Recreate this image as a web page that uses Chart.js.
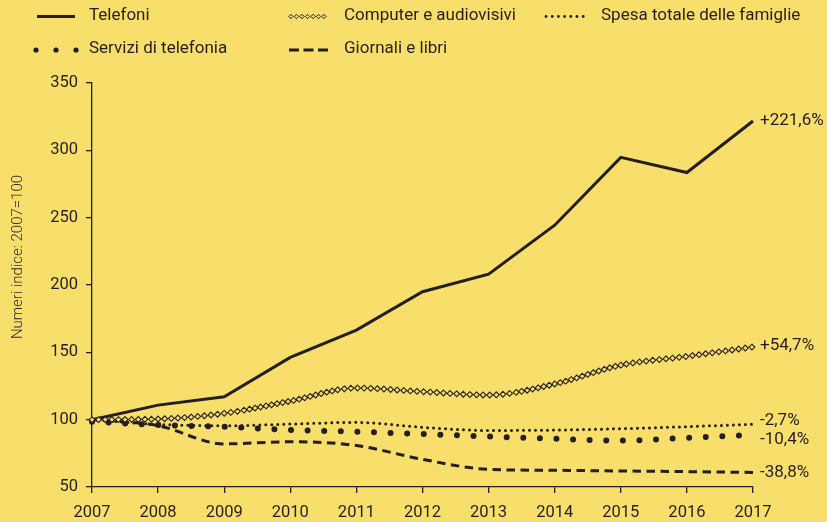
<!DOCTYPE html>
<html lang="it">
<head>
<meta charset="UTF-8">
<title>Numeri indice 2007=100</title>
<script src="https://cdn.jsdelivr.net/npm/chart.js"></script>
<style>
  html, body { margin: 0; padding: 0; background: #f8de6b; }
  #box { width: 827px; height: 522px; position: relative; }
</style>
</head>
<body>
<div id="box"><canvas id="grafico"></canvas></div>
<script>
  // dati
  var anni = ['2007','2008','2009','2010','2011','2012','2013','2014','2015','2016','2017'];
  var telefoni = [100, 110.8, 117, 146.2, 166.5, 195, 208, 244.4, 294.8, 283.5, 321.8];
  var computer = [100, 100.5, 104.7, 113.8, 123.5, 120.8, 118.3, 126.5, 140.5, 147, 154];
  var spesaTotale = [100, 96.5, 95.5, 96.7, 98, 94.3, 92, 92.3, 93.3, 94.8, 96.6];
  var serviziTelefonia = [98.5, 96, 94.7, 92.3, 91, 89.3, 87.5, 85.8, 84.5, 86.5, 88.8];
  var giornali = [100, 95.5, 82, 83.6, 80.8, 70.5, 63.1, 62.4, 61.9, 61.4, 60.8];
  var variazioni = ['+221,6%', '+54,7%', '-2,7%', '-10,4%', '-38,8%'];
  var yTicks = [50, 100, 150, 200, 250, 300, 350];

  var scuro = '#231f20';
  var giallo = '#f8de6b';

  Chart.defaults.font.family = 'Roboto, "DejaVu Sans", sans-serif';
  Chart.defaults.font.size = 16.5;
  Chart.defaults.color = scuro;

  function rombo(ctx, x, y, r) {
    ctx.beginPath();
    ctx.moveTo(x, y - r);
    ctx.lineTo(x + r, y);
    ctx.lineTo(x, y + r);
    ctx.lineTo(x - r, y);
    ctx.closePath();
    ctx.fill();
    ctx.stroke();
  }

  // catena di rombi lungo la linea "Computer e audiovisivi"
  var catenaRombi = {
    id: 'catenaRombi',
    afterDatasetsDraw: function(chart) {
      var pts = chart.getDatasetMeta(1).data;
      var ctx = chart.ctx;
      var campioni = [];
      for (var i = 0; i < pts.length - 1; i++) {
        var a = pts[i], b = pts[i + 1];
        var c1x = a.cp2x !== undefined ? a.cp2x : a.x, c1y = a.cp2y !== undefined ? a.cp2y : a.y;
        var c2x = b.cp1x !== undefined ? b.cp1x : b.x, c2y = b.cp1y !== undefined ? b.cp1y : b.y;
        for (var k = 0; k < 60; k++) {
          var t = k / 60, u = 1 - t;
          campioni.push({
            x: u*u*u*a.x + 3*u*u*t*c1x + 3*u*t*t*c2x + t*t*t*b.x,
            y: u*u*u*a.y + 3*u*u*t*c1y + 3*u*t*t*c2y + t*t*t*b.y
          });
        }
      }
      campioni.push({x: pts[pts.length - 1].x, y: pts[pts.length - 1].y});
      ctx.save();
      ctx.fillStyle = giallo;
      ctx.strokeStyle = scuro;
      ctx.lineWidth = 1.1;
      var passo = 5.6, acc = 0;
      rombo(ctx, campioni[0].x, campioni[0].y, 2.9);
      for (var j = 1; j < campioni.length; j++) {
        var dx = campioni[j].x - campioni[j-1].x, dy = campioni[j].y - campioni[j-1].y;
        acc += Math.sqrt(dx*dx + dy*dy);
        if (acc >= passo) {
          rombo(ctx, campioni[j].x, campioni[j].y, 2.9);
          acc = 0;
        }
      }
      ctx.restore();
    }
  };

  // legenda, etichette finali e titolo asse
  var decorazioni = {
    id: 'decorazioni',
    afterDraw: function(chart) {
      var ctx = chart.ctx;
      ctx.save();
      ctx.fillStyle = scuro;
      ctx.strokeStyle = scuro;
      ctx.font = '17px Roboto';
      ctx.textBaseline = 'middle';
      ctx.textAlign = 'left';

      // legenda
      ctx.fillText('Telefoni', 89, 16);
      ctx.fillText('Computer e audiovisivi', 344, 16);
      ctx.fillText('Spesa totale delle famiglie', 601, 16);
      ctx.fillText('Servizi di telefonia', 89, 49);
      ctx.fillText('Giornali e libri', 344, 49);

      ctx.lineWidth = 3;
      ctx.beginPath(); ctx.moveTo(37, 16.5); ctx.lineTo(75, 16.5); ctx.stroke();

      ctx.fillStyle = giallo; ctx.lineWidth = 1;
      for (var i = 0; i < 7; i++) rombo(ctx, 291 + i * 5.5, 16.5, 2.2);
      ctx.fillStyle = scuro;

      for (var s = 0; s < 7; s++) {
        ctx.beginPath(); ctx.arc(546 + s * 6.2, 16.5, 1.4, 0, Math.PI * 2); ctx.fill();
      }
      for (var d = 0; d < 3; d++) {
        ctx.beginPath(); ctx.arc(36 + d * 20, 50, 2.6, 0, Math.PI * 2); ctx.fill();
      }
      ctx.lineWidth = 3;
      for (var g = 0; g < 3; g++) {
        ctx.beginPath(); ctx.moveTo(289 + g * 14.5, 50); ctx.lineTo(299 + g * 14.5, 50); ctx.stroke();
      }

      // variazioni 2007-2017 accanto all'ultimo punto
      var spostY = [0, -1, -3.5, 5, 0];
      ctx.font = '17px Roboto';
      chart.data.datasets.forEach(function(ds, idx) {
        var pts = chart.getDatasetMeta(idx).data;
        var ultimo = pts[pts.length - 1];
        ctx.fillText(variazioni[idx], ultimo.x + 7, ultimo.y + spostY[idx]);
      });

      // titolo asse y
      ctx.translate(18, 257);
      ctx.rotate(-Math.PI / 2);
      ctx.textAlign = 'center';
      ctx.font = '300 15px Roboto';
      ctx.fillStyle = '#2e2b2b';
      ctx.fillText('Numeri indice: 2007=100', 0, 0);
      ctx.restore();
    }
  };

  var ctx = document.getElementById('grafico').getContext('2d');
  var grafico = new Chart(ctx, {
    type: 'line',
    data: {
      labels: anni,
      datasets: [
        {
          label: 'Telefoni',
          data: telefoni,
          borderColor: scuro,
          borderWidth: 3,
          tension: 0,
          pointRadius: 0
        },
        {
          label: 'Computer e audiovisivi',
          data: computer,
          borderColor: 'rgba(0,0,0,0)',
          borderWidth: 0,
          cubicInterpolationMode: 'monotone',
          pointRadius: 0
        },
        {
          label: 'Spesa totale delle famiglie',
          data: spesaTotale,
          borderColor: scuro,
          borderWidth: 3,
          borderDash: [0, 6],
          borderCapStyle: 'round',
          cubicInterpolationMode: 'monotone',
          pointRadius: 0
        },
        {
          label: 'Servizi di telefonia',
          data: serviziTelefonia,
          borderColor: scuro,
          borderWidth: 6,
          borderDash: [0, 16.6],
          borderCapStyle: 'round',
          cubicInterpolationMode: 'monotone',
          pointRadius: 0
        },
        {
          label: 'Giornali e libri',
          data: giornali,
          borderColor: scuro,
          borderWidth: 3,
          borderDash: [8.5, 5.5],
          cubicInterpolationMode: 'monotone',
          pointRadius: 0
        }
      ]
    },
    options: {
      responsive: true,
      maintainAspectRatio: false,
      animation: false,
      layout: { padding: { top: 83, right: 74, left: 0, bottom: 0 } },
      plugins: {
        legend: { display: false },
        tooltip: { enabled: false }
      },
      scales: {
        x: {
          offset: false,
          border: { display: true, color: scuro, width: 1.3 },
          grid: { drawOnChartArea: false, drawTicks: true, tickLength: 6, color: scuro, lineWidth: 1.3 },
          ticks: { padding: 10, maxRotation: 0, autoSkip: false, color: scuro },
          afterFit: function(scale) { scale.height = 35; }
        },
        y: {
          min: 50,
          max: 350,
          afterBuildTicks: function(scale) {
            scale.ticks = yTicks.map(function(v) { return { value: v }; });
          },
          border: { display: true, color: scuro, width: 1.3 },
          grid: { drawOnChartArea: false, drawTicks: true, tickLength: 6, color: scuro, lineWidth: 1.3 },
          ticks: { padding: 8, color: scuro },
          afterFit: function(scale) { scale.width = 92; }
        }
      }
    },
    plugins: [catenaRombi, decorazioni]
  });
</script>
</body>
</html>
